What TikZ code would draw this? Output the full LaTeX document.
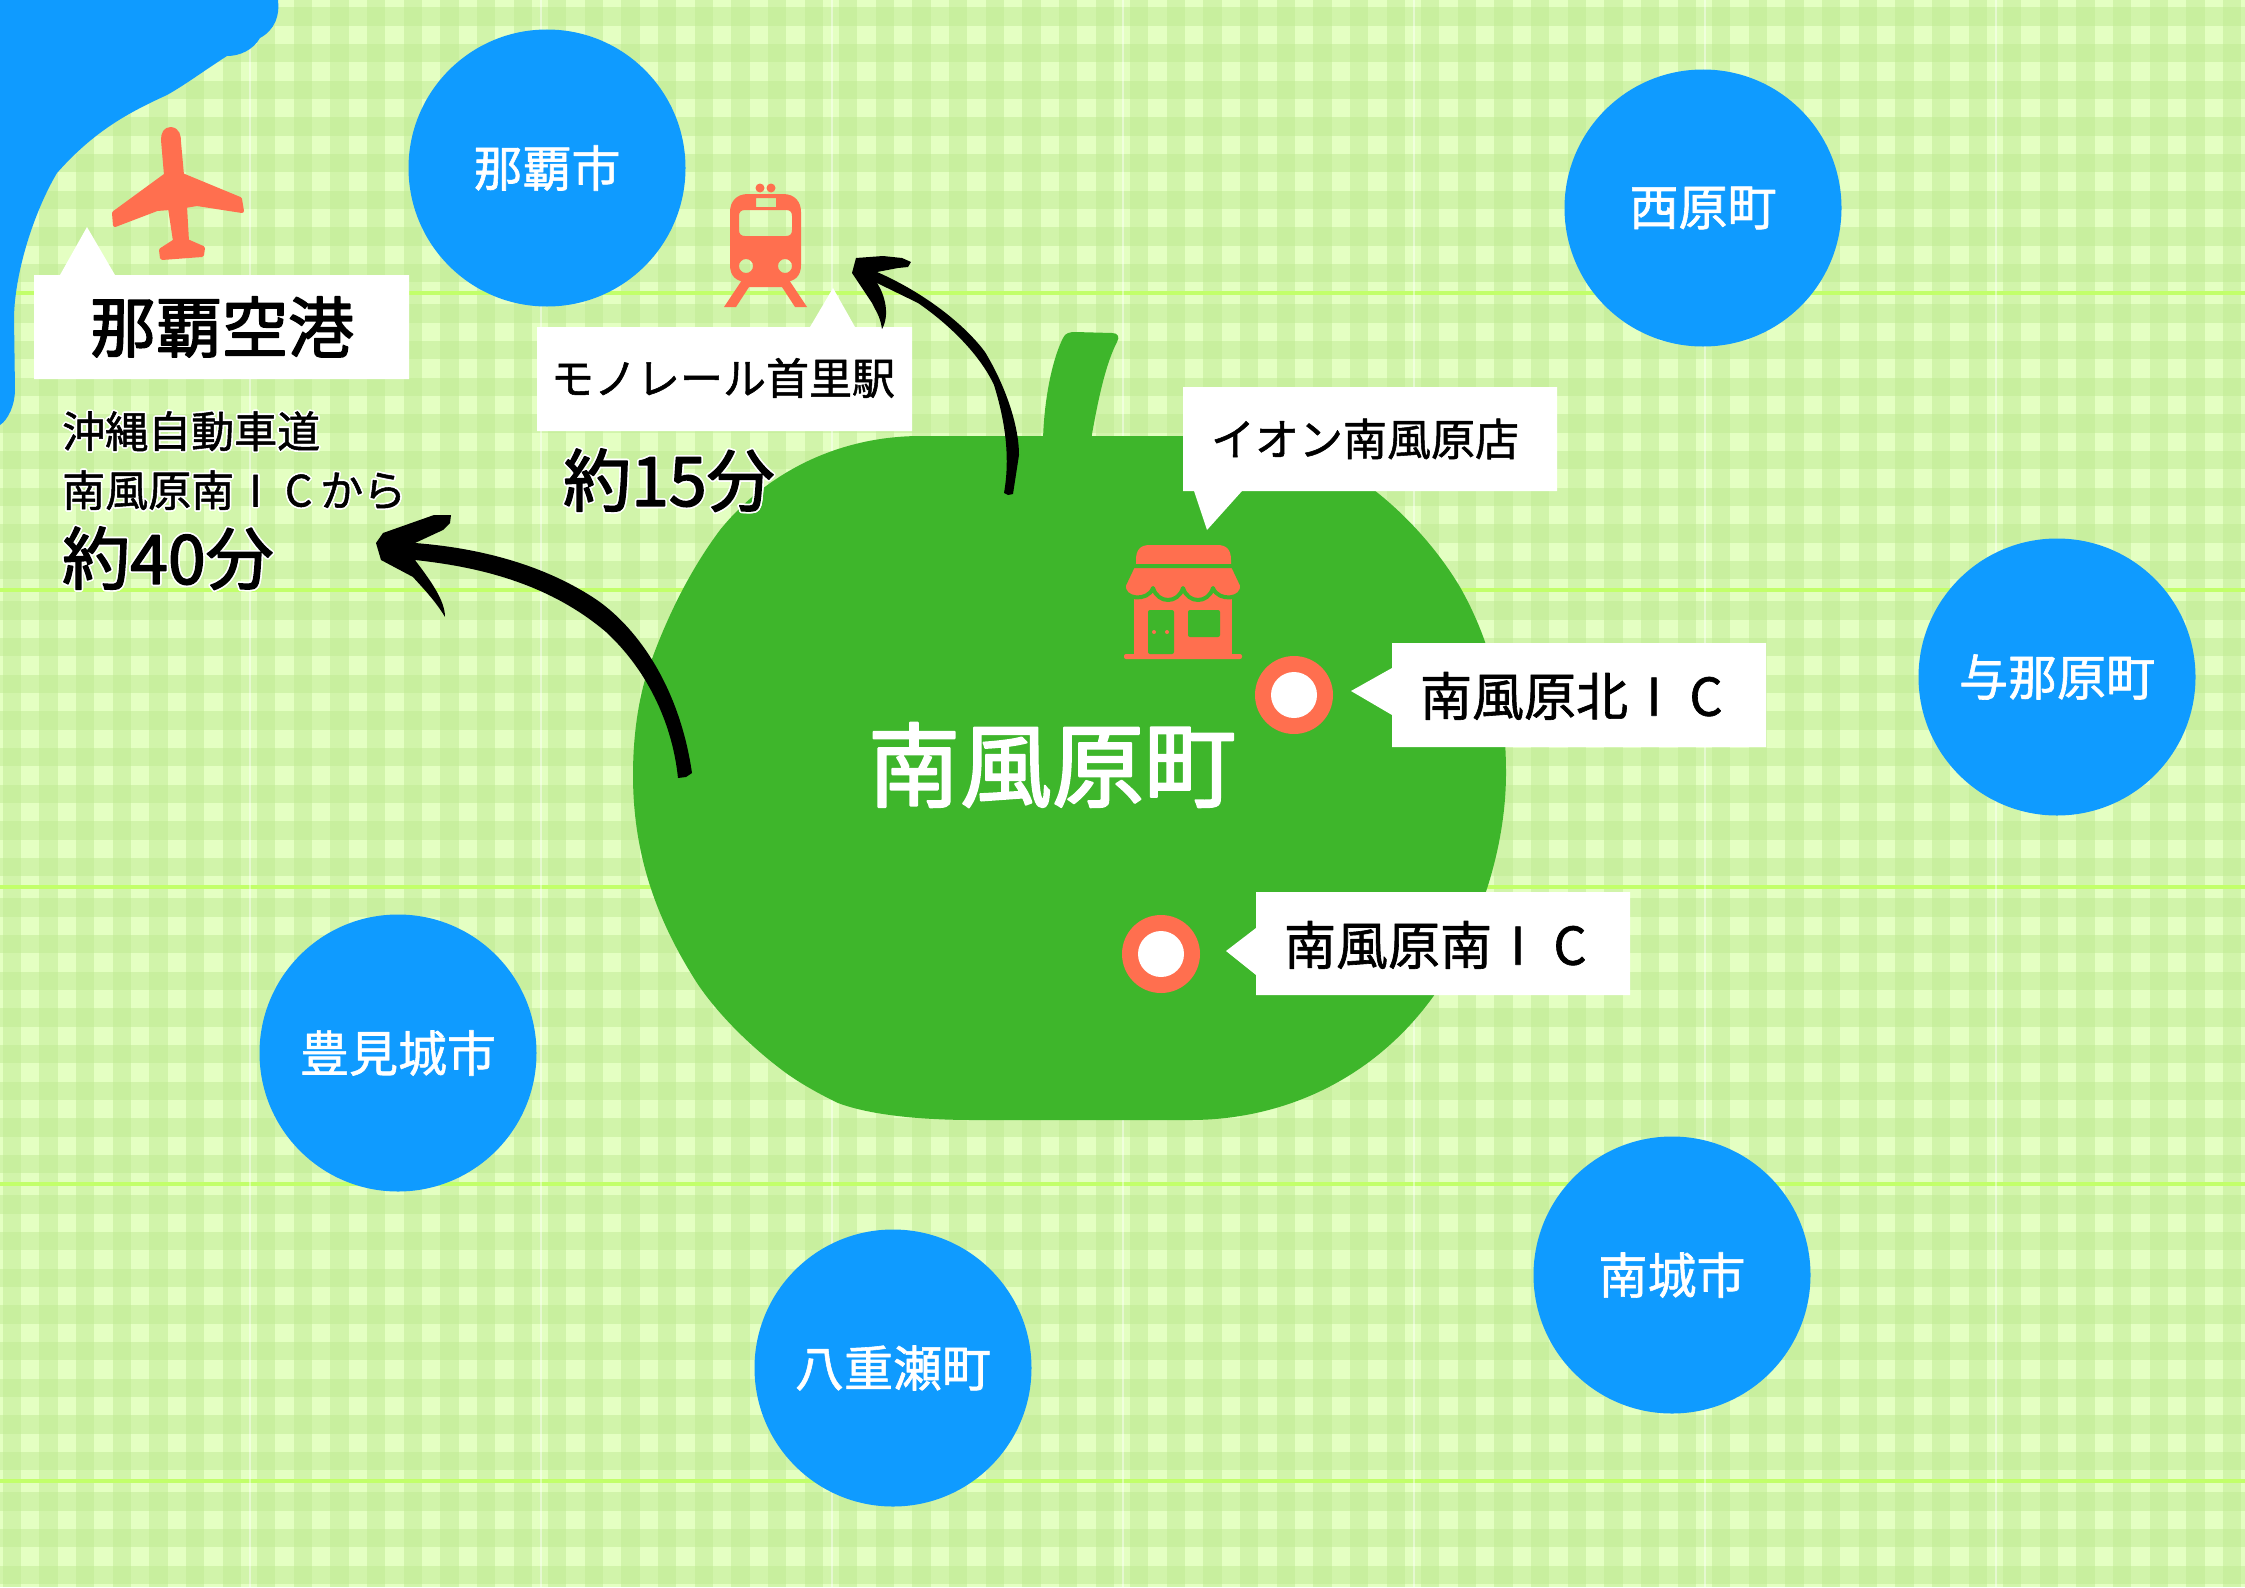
\documentclass[tikz,border=0pt]{standalone}
\usepackage{fontspec}
\usepackage{contour}
\setmainfont{Noto Sans CJK JP}
\newfontfamily\chuji[FakeBold=1.2]{Noto Sans CJK JP}
\newfontfamily\futoji[FakeBold=2.2]{Noto Sans CJK JP}
\definecolor{umi}{HTML}{0F9BFF}
\definecolor{midori}{HTML}{3EB62B}
\definecolor{shu}{HTML}{FF6F4F}
\definecolor{kiji}{HTML}{E4FFC2}
\definecolor{koushi}{HTML}{C0EB94}
\definecolor{sen}{HTML}{C2FF6A}
\contourlength{1.6pt}
\newcommand{\ic}{\makebox[1em]{I}\makebox[1em]{C}}
\tikzset{
	machi/.style={circle,fill=umi,minimum size=277pt,inner sep=0pt,text=white,font=\chuji\fontsize{49}{49}\selectfont},
	fuki/.style={fill=white},
	moji/.style={inner sep=0pt,text=black}
}
\begin{document}
\begin{tikzpicture}[x=1pt,y=-1pt,line join=round]
	\useasboundingbox (0,0) rectangle (2245,1587);
	\begin{scope}
	\clip (0,0) rectangle (2245,1587);
	\fill[kiji] (0,0) rectangle (2245,1587);
	% koushi
	\foreach \c in {0,...,8}{
		\pgfmathsetmacro{\tx}{-42+291*\c}
		\pgfmathsetmacro{\dy}{\c==8 ? -2 : 0}
		\begin{scope}
		\clip (\tx,0) rectangle (\tx+291,1587);
		\foreach \i in {0,...,7} \fill[koushi,opacity=.5] ({\tx+8+36.67*\i},0) rectangle ({\tx+26.3+36.67*\i},1587);
		\foreach \r in {0,...,5}{
			\pgfmathsetmacro{\ty}{-4+297*\r+\dy}
			\foreach \j in {0,...,7} \fill[koushi,opacity=.5] (\tx,{\ty+11.3+36.67*\j}) rectangle (\tx+291,{\ty+29.6+36.67*\j});
			\fill[sen] (\tx,\ty-2.3) rectangle (\tx+291,\ty+2.3);
		}
		\fill[white,opacity=.45] (\tx-1.5,0) rectangle (\tx+1.5,1587);
		\end{scope}
	}
	\end{scope}
	% umi
	\fill[umi] (0,0) -- (278,0) .. controls (280,15) and (275,30) .. (260,38) .. controls (253,50) and (240,56) .. (227,56)
		.. controls (205,70) and (185,85) .. (167,95) .. controls (130,112) and (95,130) .. (57,173)
		.. controls (35,210) and (15,270) .. (14,317) -- (15,390) .. controls (15,405) and (8,420) .. (0,425) -- cycle;
	% ringo
	\fill[midori] (1043,440) .. controls (1044,400) and (1052,360) .. (1063,338) .. controls (1065,333) and (1070,332) .. (1075,332)
		-- (1112,333) .. controls (1118,333) and (1120,337) .. (1117,342) .. controls (1105,365) and (1097,405) .. (1091,440) -- cycle;
	\fill[midori] (921,436) -- (1250,436) .. controls (1340,445) and (1420,520) .. (1460,587) .. controls (1490,640) and (1506,700) .. (1506,773)
		.. controls (1506,860) and (1470,960) .. (1410,1025) .. controls (1350,1090) and (1270,1120) .. (1190,1120) -- (974,1120)
		.. controls (920,1120) and (870,1115) .. (838,1103) .. controls (815,1092) and (795,1080) .. (782,1070)
		.. controls (745,1042) and (715,1010) .. (697,983) .. controls (660,925) and (633,860) .. (633,775)
		.. controls (633,730) and (640,695) .. (647,673) .. controls (665,620) and (690,570) .. (720,530)
		.. controls (760,480) and (830,436) .. (921,436) -- cycle;
	% hikouki
	\fill[shu,draw=shu,line width=4pt] (171,129) .. controls (178,130) and (179,136) .. (179,142) -- (182,175) -- (240,199)
		-- (242,211) -- (197,204) -- (185,206) -- (187,241) -- (203,248) -- (202,255) -- (162,258) -- (161,250) -- (175,241)
		-- (170,208) -- (157,209) -- (115,225) -- (114,213) -- (166,175) -- (163,140) .. controls (163,134) and (165,129) .. (171,129) -- cycle;
	% densha
	\fill[shu,even odd rule] (748,194) -- (783,194) .. controls (795,194) and (801,202) .. (801,212) -- (801,265) .. controls (801,276) and (795,282) .. (783,282) -- (748,282) .. controls (736,282) and (730,276) .. (730,265) -- (730,212) .. controls (730,202) and (736,194) .. (748,194) -- cycle
		(745,210) -- (786,210) .. controls (790,210) and (792,212) .. (792,216) -- (792,230) .. controls (792,234) and (790,236) .. (786,236) -- (745,236) .. controls (741,236) and (739,234) .. (739,230) -- (739,216) .. controls (739,212) and (741,210) .. (745,210) -- cycle
		(756,198) rectangle (776,207)
		(746,266) circle (7) (785,266) circle (7);
	\fill[shu] (760,188) circle (4.5) (771,188) circle (4.5);
	\fill[shu] (742,280) -- (724,307) -- (736,307) -- (749,287) -- (782,287) -- (795,307) -- (807,307) -- (789,280) -- cycle;
	% mise
	\fill[shu] (1134,590) rectangle (1232,655);
	\fill[shu,rounded corners=2pt] (1124,654) rectangle (1242,659);
	\fill[shu] (1136,564) -- (1136,560) .. controls (1136,550) and (1140,545) .. (1150,545) -- (1217,545) .. controls (1227,545) and (1231,550) .. (1231,560) -- (1231,564) -- cycle;
	\fill[shu,draw=midori,line width=4pt] (1133,566) -- (1233,566) -- (1242,585)
		.. controls (1244,600) and (1218,602) .. (1213,588)
		.. controls (1208,604) and (1188,604) .. (1183,588) .. controls (1178,604) and (1158,604) .. (1153,588)
		.. controls (1148,602) and (1122,600) .. (1124,585) -- cycle;
	\fill[midori,rounded corners=2pt] (1148,654) -- (1148,610) -- (1174,610) -- (1174,654) -- cycle;
	\fill[midori,rounded corners=2pt] (1188,610) rectangle (1220,637);
	\fill[shu] (1154,632) circle (2) (1167,632) circle (2);
	% fukidashi
	\fill[fuki] (34,275) rectangle (409,379) (60,275) -- (87,227) -- (115,275) -- cycle;
	\fill[fuki] (537,327) rectangle (912,431) (810,327) -- (833,288) -- (855,327) -- cycle;
	\fill[fuki] (1183,387) rectangle (1557,491) (1194,491) -- (1207,530) -- (1242,491) -- cycle;
	\fill[fuki] (1392,643) rectangle (1766,747) (1392,668) -- (1351,691) -- (1392,715) -- cycle;
	\fill[fuki] (1256,892) rectangle (1630,995) (1256,928) -- (1226,951) -- (1256,975) -- cycle;
	% machi
	\node[machi] (naha) at (547,168) {\raisebox{-1pt}{那覇市}};
	\node[machi] (nishihara) at (1703,208) {\raisebox{-1pt}{西原町}};
	\node[machi] (yonabaru) at (2057,677) {\raisebox{-1pt}{与那原町}};
	\node[machi] (tomigusuku) at (398,1053) {\raisebox{-1pt}{豊見城市}};
	\node[machi] (yaese) at (893,1368) {\raisebox{-1pt}{八重瀬町}};
	\node[machi] (nanjo) at (1672,1275) {\raisebox{-1pt}{南城市}};
	\node[moji,text=white,font=\futoji\fontsize{92}{92}\selectfont] (haebaru) at (1052,765) {南風原町};
	\foreach \n/\p in {kita/{(1294,695)},minami/{(1161,954)}}{
		\fill[shu] \p circle (39);
		\fill[white] \p circle (23);
	}
	\node[moji,font=\futoji\fontsize{66}{66}\selectfont] (kuko) at (222,327) {那覇空港};
	\node[moji,font=\chuji\fontsize{43}{43}\selectfont] (shuri) at (723,378) {モノレール首里駅};
	\node[moji,font=\chuji\fontsize{44}{44}\selectfont] (aeon) at (1365,439) {イオン南風原店};
	\node[moji,font=\chuji\fontsize{52}{52}\selectfont] (kitaic) at (1576,696) {南風原北\ic};
	\node[moji,font=\chuji\fontsize{52}{52}\selectfont] (minamiic) at (1440,945) {南風原南\ic};
	\node[moji,anchor=west,font=\chuji\fontsize{43}{43}\selectfont] (doro) at (62,432) {\contour{white}{沖縄自動車道}};
	\node[moji,anchor=west,font=\chuji\fontsize{43}{43}\selectfont] (kara) at (62,491) {\contour{white}{南風原南\ic から}};
	\node[moji,anchor=west,font=\futoji\fontsize{68}{68}\selectfont] (yon) at (62,559) {\contour{white}{約40分}};
	\node[moji,anchor=west,font=\futoji\fontsize{68}{68}\selectfont] (jugo) at (563,481) {\contour{white}{約15分}};
	% fude
	\coordinate (motoA) at (686,777);
	\coordinate (sakiA) at (376,543);
	\coordinate (motoB) at (1008,495);
	\coordinate (sakiB) at (852,273);
	\fill (sakiA) -- (383,533) -- (434,515) -- (451,515) -- (450,523) -- (443,530) -- (415,543)
		.. controls (480,548) and (545,565) .. (597,600) .. controls (640,630) and (680,690) .. (692,773) -- (motoA) -- (678,778)
		.. controls (672,720) and (645,668) .. (606,632) .. controls (545,580) and (470,566) .. (415,560)
		.. controls (430,580) and (445,600) .. (445,617) .. controls (435,600) and (420,585) .. (413,577) -- (381,560) -- cycle;
	\fill (sakiB) -- (856,258) -- (883,256) -- (902,258) -- (911,262) -- (908,267) -- (898,268) -- (877,272)
		.. controls (925,293) and (965,325) .. (985,352) .. controls (1005,385) and (1019,425) .. (1019,455) -- (1013,494) -- (motoB) -- (1004,493)
		.. controls (1009,465) and (1008,430) .. (994,385) .. controls (980,355) and (950,325) .. (918,303) -- (877,283)
		.. controls (885,295) and (890,315) .. (882,329) .. controls (880,315) and (875,310) .. (872,303) -- cycle;
\end{tikzpicture}
\end{document}
